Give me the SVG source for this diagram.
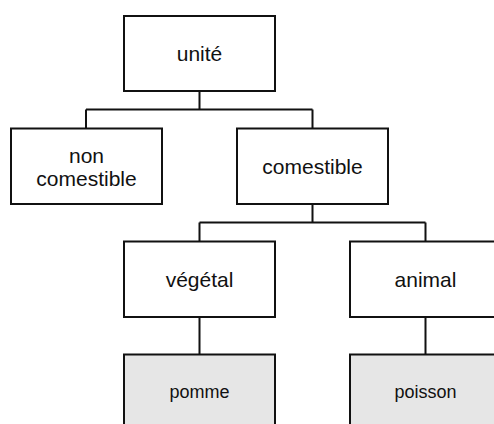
<svg xmlns="http://www.w3.org/2000/svg" width="494" height="424" viewBox="0 0 494 424">
  <style>
    .box { fill: #ffffff; stroke: #111111; stroke-width: 2; }
    .leaf { fill: #e6e6e6; stroke: #111111; stroke-width: 2; }
    .lbl { font-family: "Liberation Sans", Arial, sans-serif; font-size: 21px; fill: #111111; text-anchor: middle; }
    .small { font-size: 18px; }
    .wire { fill: none; stroke: #111111; stroke-width: 2; }
  </style>
  <rect width="494" height="424" fill="#ffffff"/>

  <g id="connectors">
    <path class="wire" d="M199.5 91 V109.5 M86 109.5 H312.5 M86 109.5 V128 M312.5 109.5 V128"/>
    <path class="wire" d="M312.5 204 V222.5 M199.5 222.5 H425.5 M199.5 222.5 V241.5 M425.5 222.5 V241.5"/>
    <path class="wire" d="M199.5 317 V354.5 M425.5 317 V354.5"/>
  </g>

  <g id="unite">
    <rect class="box" x="124" y="16" width="151" height="75"/>
    <text class="lbl" x="199.5" y="61">unité</text>
  </g>
  <g id="non-comestible">
    <rect class="box" x="11" y="128.5" width="151" height="75.5"/>
    <text class="lbl" x="86.5" y="162.5">non</text>
    <text class="lbl" x="86.5" y="185.5">comestible</text>
  </g>
  <g id="comestible">
    <rect class="box" x="237" y="128.5" width="151" height="75.5"/>
    <text class="lbl" x="312.5" y="173.5">comestible</text>
  </g>
  <g id="vegetal">
    <rect class="box" x="124" y="241.5" width="151" height="75.5"/>
    <text class="lbl" x="199.5" y="286.5">végétal</text>
  </g>
  <g id="animal">
    <rect class="box" x="350" y="241.5" width="151" height="75.5"/>
    <text class="lbl" x="425.5" y="286.5">animal</text>
  </g>
  <g id="pomme">
    <rect class="leaf" x="124" y="354.5" width="151" height="75.5"/>
    <text class="lbl small" x="199.5" y="397.5">pomme</text>
  </g>
  <g id="poisson">
    <rect class="leaf" x="350" y="354.5" width="151" height="75.5"/>
    <text class="lbl small" x="425.5" y="397.5">poisson</text>
  </g>
</svg>
